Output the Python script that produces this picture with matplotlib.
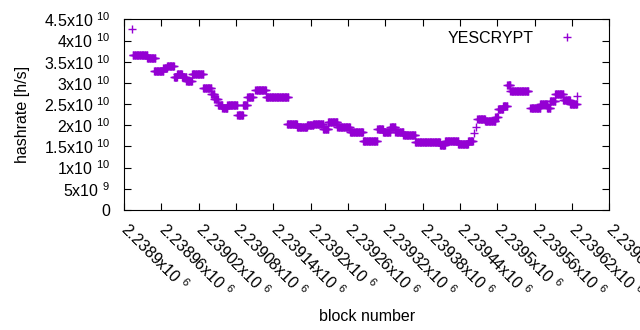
import matplotlib
matplotlib.use("Agg")
import matplotlib.pyplot as plt
import numpy as np
from matplotlib.ticker import FixedLocator, FuncFormatter

plt.rcParams['font.family'] = ['Liberation Sans', 'DejaVu Sans']
plt.rcParams['mathtext.default'] = 'regular'

BASE = 2238900

# hashrate estimate stays constant over runs of blocks: (first, last, value)
seg_first = [12, 14, 37, 48, 63, 69, 80, 85, 93, 100, 109, 127, 140, 145, 151,
             158, 166, 182, 191, 198, 211, 228, 262, 278, 294, 304, 320, 328,
             343, 363, 384, 407, 416, 428, 436, 449, 468, 508, 516, 537, 553,
             563, 566, 568, 580, 597, 601, 609, 616, 621, 653, 669, 680, 685,
             693, 706, 717, 728]
seg_last = [12, 37, 50, 63, 69, 80, 85, 93, 100, 109, 127, 140, 145, 151, 158,
            166, 182, 191, 198, 207, 228, 264, 278, 294, 304, 320, 328, 343,
            363, 384, 407, 416, 428, 436, 449, 468, 508, 516, 537, 553, 561,
            563, 566, 580, 597, 601, 609, 616, 621, 650, 669, 680, 685, 693,
            706, 717, 728, 728]
seg_value = [4.28, 3.67, 3.58, 3.29, 3.35, 3.41, 3.14, 3.22, 3.14, 3.04, 3.20,
             2.88, 2.73, 2.63, 2.49, 2.40, 2.49, 2.24, 2.47, 2.66, 2.84, 2.66,
             2.04, 1.95, 2.00, 2.04, 1.92, 2.07, 1.96, 1.84, 1.62, 1.90, 1.85,
             1.95, 1.85, 1.76, 1.60, 1.54, 1.63, 1.55, 1.63, 1.81, 1.96, 2.14,
             2.10, 2.20, 2.38, 2.45, 2.94, 2.80, 2.40, 2.51, 2.40, 2.58, 2.73,
             2.59, 2.50, 2.70]

x_ticks = np.arange(2238900, 2239681, 60)
y_ticks = np.arange(0, 4.51e10, 5e9)

blocks = []
rates = []
for a, b, v in zip(seg_first, seg_last, seg_value):
    for n in range(a, b + 1):
        blocks.append(BASE + n)
        rates.append(v * 1e10)

FS = 11.5


def sci(v, pos=None):
    if v == 0:
        return '0'
    e = int(np.floor(np.log10(abs(v)) + 1e-9))
    m = v / 10 ** e
    ms = ('%.6f' % m).rstrip('0').rstrip('.')
    return '%sx10 $^{%d}$' % (ms, e)


fig = plt.figure(figsize=(6.4, 3.3), dpi=100)
ax = fig.add_axes([0.194, 0.364, 0.758, 0.577])

ax.plot(blocks, rates, linestyle='none', marker='+', color='#9400d3',
        markersize=6, markeredgewidth=1.0, label='YESCRYPT')

ax.set_xlim(x_ticks[0], x_ticks[-1])
ax.set_ylim(0, 4.5e10)
ax.xaxis.set_major_locator(FixedLocator(x_ticks))
ax.yaxis.set_major_locator(FixedLocator(y_ticks))
ax.xaxis.set_major_formatter(FuncFormatter(sci))
ax.yaxis.set_major_formatter(FuncFormatter(sci))

ax.tick_params(direction='in', length=5, width=0.8, top=True, right=True,
               labelsize=FS)
ax.tick_params(axis='y', pad=10)
ax.tick_params(axis='x', pad=12)
for lab in ax.get_xticklabels():
    lab.set_rotation(-45)
    lab.set_ha('left')
    lab.set_va('center')
    lab.set_rotation_mode('anchor')
for s in ax.spines.values():
    s.set_linewidth(0.8)

ax.set_xlabel('block number', fontsize=FS, labelpad=6)
ax.set_ylabel('hashrate [h/s]', fontsize=FS, labelpad=10)

ax.legend(loc='upper right', frameon=False, markerfirst=False, fontsize=FS,
          handlelength=1.5, handletextpad=1.35, borderaxespad=0.3,
          bbox_to_anchor=(0.96, 1.0))

fig.savefig('out.png', dpi=100)
